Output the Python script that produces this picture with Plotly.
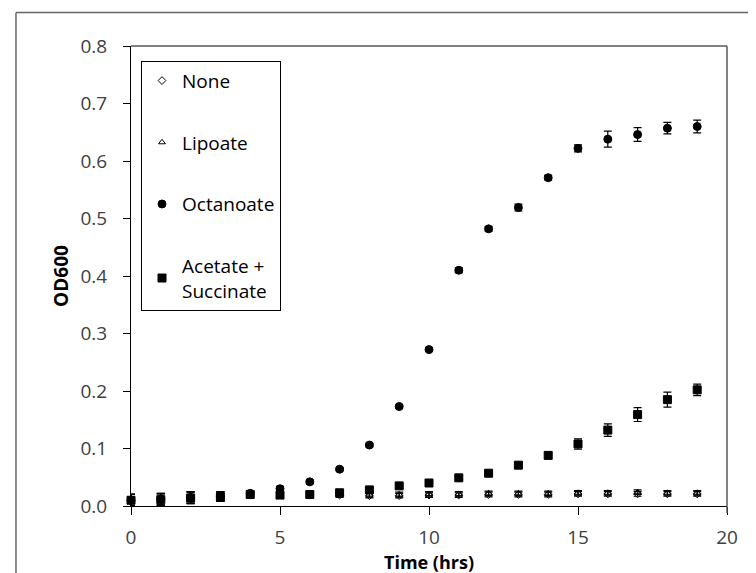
import plotly.graph_objects as go

time_hrs = list(range(20))

none_od = [0.010, 0.011, 0.014, 0.016, 0.019, 0.019, 0.019, 0.019, 0.018, 0.018,
           0.019, 0.019, 0.020, 0.020, 0.020, 0.021, 0.021, 0.021, 0.021, 0.021]
none_err = [0.010, 0.010, 0.010, 0.008, 0.004, 0.004, 0.004, 0.004, 0.004, 0.004,
            0.004, 0.004, 0.004, 0.004, 0.004, 0.004, 0.004, 0.004, 0.004, 0.004]

lipoate_od = [0.011, 0.012, 0.015, 0.017, 0.020, 0.020, 0.020, 0.021, 0.020, 0.020,
              0.021, 0.021, 0.022, 0.022, 0.022, 0.023, 0.023, 0.024, 0.023, 0.023]
lipoate_err = [0.010, 0.010, 0.010, 0.008, 0.004, 0.004, 0.004, 0.004, 0.004, 0.004,
               0.004, 0.004, 0.004, 0.004, 0.004, 0.004, 0.004, 0.004, 0.004, 0.004]

octanoate_od = [0.010, 0.012, 0.015, 0.017, 0.022, 0.030, 0.042, 0.064, 0.106, 0.173,
                0.272, 0.410, 0.482, 0.519, 0.571, 0.622, 0.638, 0.646, 0.657, 0.660]
octanoate_err = [0.010, 0.010, 0.010, 0.008, 0.004, 0.004, 0.003, 0.003, 0.003, 0.003,
                 0.003, 0.004, 0.004, 0.006, 0.004, 0.006, 0.014, 0.012, 0.010, 0.011]

acetate_od = [0.010, 0.011, 0.014, 0.016, 0.020, 0.019, 0.020, 0.023, 0.028, 0.035,
              0.040, 0.049, 0.057, 0.071, 0.088, 0.108, 0.132, 0.159, 0.185, 0.202]
acetate_err = [0.010, 0.010, 0.010, 0.008, 0.004, 0.004, 0.004, 0.004, 0.004, 0.004,
               0.003, 0.003, 0.003, 0.004, 0.005, 0.009, 0.011, 0.012, 0.013, 0.010]

series = [
    ("None", none_od, none_err, "diamond-open", 6),
    ("Lipoate", lipoate_od, lipoate_err, "triangle-up-open", 6),
    ("Octanoate", octanoate_od, octanoate_err, "circle", 8),
    ("Acetate +<br>Succinate", acetate_od, acetate_err, "square", 8),
]

FONT = "'Open Sans', Lato, sans-serif"

fig = go.Figure()
for i, (name, vals, errs, sym, size) in enumerate(series):
    fig.add_trace(go.Scatter(
        x=time_hrs, y=vals, name=name, mode="markers",
        legendgroup=f"g{i}",
        marker=dict(symbol=sym, size=size, color="black",
                    line=dict(color="black", width=1)),
        error_y=dict(type="data", array=errs, visible=True,
                     color="black", thickness=1.2, width=4),
        cliponaxis=False,
    ))

fig.update_layout(
    width=756, height=573,
    margin=dict(l=123, r=37, t=38, b=75),
    paper_bgcolor="white", plot_bgcolor="white",
    font=dict(family=FONT, color="#404040"),
    showlegend=True,
    legend=dict(
        x=0.0168, y=0.968, xanchor="left", yanchor="top",
        bordercolor="black", borderwidth=1, bgcolor="white",
        font=dict(family=FONT, size=19, color="black"),
        tracegroupgap=34, itemwidth=30,
    ),
    xaxis=dict(
        range=[0, 20], dtick=5, tick0=0,
        showgrid=False, zeroline=False,
        showline=True, linecolor="black", linewidth=1.2,
        ticks="outside", ticklen=8, tickcolor="black", tickwidth=1.2,
        ticklabelstandoff=6,
        tickfont=dict(family=FONT, size=19, color="#404040"),
        title=dict(text="<b>Time (hrs)</b>", standoff=0,
                   font=dict(family=FONT, size=18, color="black")),
    ),
    yaxis=dict(
        range=[0, 0.8], dtick=0.1, tick0=0, tickformat=".1f",
        showgrid=False, zeroline=False,
        showline=True, linecolor="black", linewidth=1.2,
        ticks="outside", ticklen=7, tickcolor="black", tickwidth=1.2,
        ticklabelstandoff=12,
        tickfont=dict(family=FONT, size=19, color="#404040"),
        title=dict(text="<b>OD600</b>", standoff=6,
                   font=dict(family=FONT, size=19, color="black")),
    ),
    shapes=[
        # plot area border (top/right)
        dict(type="line", xref="paper", yref="paper", x0=0, x1=1, y0=1, y1=1,
             line=dict(color="#595959", width=1.5)),
        dict(type="line", xref="paper", yref="paper", x0=1, x1=1, y0=-0.016, y1=1,
             line=dict(color="#595959", width=1.5)),
        # outer chart frame (cropped at right and bottom)
        dict(type="line", xref="paper", yref="paper", x0=-0.193, x1=1.07, y0=1.073, y1=1.073,
             line=dict(color="#666666", width=1.5)),
        dict(type="line", xref="paper", yref="paper", x0=-0.193, x1=-0.193, y0=-0.2, y1=1.073,
             line=dict(color="#666666", width=1.5)),
    ],
)

fig.write_html("out.html")
